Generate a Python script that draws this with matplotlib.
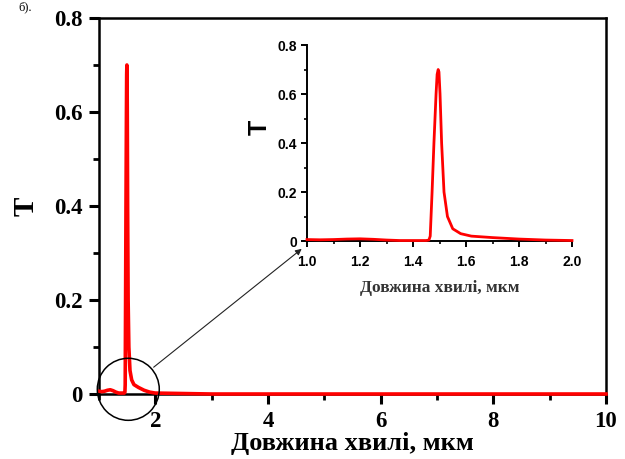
import matplotlib
matplotlib.use("Agg")
import matplotlib.pyplot as plt
from matplotlib.patches import Ellipse, ConnectionPatch
from matplotlib.ticker import MultipleLocator

# спектр пропускання
wavelength = [1.0, 1.05, 1.1, 1.15, 1.2, 1.25, 1.3, 1.35, 1.4, 1.45, 1.46, 1.465,
              1.472, 1.479, 1.487, 1.491, 1.495, 1.498, 1.502, 1.508, 1.517, 1.53,
              1.55, 1.58, 1.62, 1.7, 1.8, 1.9, 2.0, 2.5, 3.0, 4.0, 5.0, 6.0, 7.0,
              8.0, 9.0, 10.0]
transmission = [0.006, 0.005, 0.006, 0.008, 0.009, 0.007, 0.004, 0.002, 0.002, 0.002, 0.004, 0.02,
                0.2, 0.4, 0.6, 0.68, 0.7, 0.69, 0.6, 0.4, 0.2, 0.1,
                0.05, 0.03, 0.02, 0.014, 0.008, 0.004, 0.002, 0.001, 0.0, 0.0, 0.0, 0.0, 0.0,
                0.0, 0.0, 0.0]

main_xticks = [2, 4, 6, 8, 10]
main_yticks = [0, 0.2, 0.4, 0.6, 0.8]
main_ylabels = ["0", "0.2", "0.4", "0.6", "0.8"]
inset_xticks = [1.0, 1.2, 1.4, 1.6, 1.8, 2.0]
inset_yticks = [0, 0.2, 0.4, 0.6, 0.8]
inset_ylabels = ["0", "0.2", "0.4", "0.6", "0.8"]

xlabel = "Довжина хвилі, мкм"
serif = "Liberation Serif"
sans = "Liberation Sans"

fig = plt.figure(figsize=(6.25, 4.59), dpi=100)

# основний графік
ax = fig.add_axes([0.1584, 0.1416, 0.8112, 0.8192])
ax.plot(wavelength, transmission, color="#ff0000", lw=2.6, zorder=3, clip_on=False)
ax.set_xlim(1, 10)
ax.set_ylim(0, 0.8)
ax.set_xticks(main_xticks)
ax.xaxis.set_minor_locator(MultipleLocator(1))
ax.set_yticks(main_yticks)
ax.set_yticklabels(main_ylabels)
ax.yaxis.set_minor_locator(MultipleLocator(0.1))
ax.tick_params(which="major", direction="out", length=7, width=2.2, pad=5)
ax.tick_params(which="minor", direction="out", length=4, width=2.0)
for lab in ax.get_xticklabels() + ax.get_yticklabels():
    lab.set_fontfamily(serif)
    lab.set_fontweight("bold")
    lab.set_fontsize(16.5)
for s in ax.spines.values():
    s.set_linewidth(1.8)
ax.set_xlabel(xlabel, fontfamily=serif, fontweight="bold", fontsize=19, labelpad=0)
ax.set_ylabel("T", fontfamily=serif, fontweight="bold", fontsize=21, labelpad=10)

# вставка (тільки діапазон 1-2 мкм)
ins_x = [w for w in wavelength if w <= 2.0]
ins_y = transmission[:len(ins_x)]
axi = fig.add_axes([0.4912, 0.4749, 0.424, 0.427])
axi.plot(ins_x, ins_y, color="#ff0000", lw=2.0, zorder=3, clip_on=False)
axi.set_xlim(1.0, 2.0)
axi.set_ylim(0, 0.8)
axi.set_xticks(inset_xticks)
axi.set_xticklabels([f"{v:.1f}" for v in inset_xticks])
axi.xaxis.set_minor_locator(MultipleLocator(0.1))
axi.set_yticks(inset_yticks)
axi.set_yticklabels(inset_ylabels)
axi.yaxis.set_minor_locator(MultipleLocator(0.1))
axi.spines["top"].set_visible(False)
axi.spines["right"].set_visible(False)
for s in ["left", "bottom"]:
    axi.spines[s].set_linewidth(1.4)
axi.tick_params(which="major", direction="out", length=4, width=1.4, pad=3)
axi.tick_params(axis="x", which="major", pad=6)
axi.tick_params(which="minor", direction="out", length=2, width=1.2)
for lab in axi.get_xticklabels() + axi.get_yticklabels():
    lab.set_fontfamily(sans)
    lab.set_fontweight("bold")
    lab.set_fontsize(10)
axi.set_xlabel(xlabel, fontfamily=serif, fontweight="bold", fontsize=12.5,
               color="#333333", labelpad=8)
axi.set_ylabel("T", fontfamily=sans, fontweight="bold", fontsize=18, labelpad=4)
axi.yaxis.label.set_y(0.58)

# коло та стрілка
circle = Ellipse((1.52, 0.01), 1.1, 0.132, transform=ax.transData, fill=False,
                 edgecolor="black", lw=1.1, clip_on=False, zorder=4)
ax.add_patch(circle)
con = ConnectionPatch(xyA=(1.97, 0.057), coordsA=ax.transData,
                      xyB=(-0.02, -0.04), coordsB=axi.transAxes,
                      arrowstyle="-|>", color="#222222", lw=0.8, mutation_scale=9)
fig.add_artist(con)

fig.text(0.03, 0.998, "б).", fontfamily=serif, fontsize=9, va="top")

fig.savefig("out.png", dpi=100)
